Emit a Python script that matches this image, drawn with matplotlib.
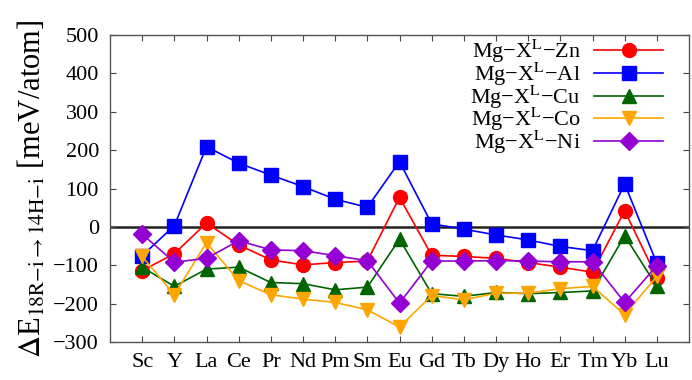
import numpy as np
import matplotlib
matplotlib.use('Agg')
import matplotlib.pyplot as plt

plt.rcParams['font.family'] = ['Liberation Serif', 'DejaVu Serif']
plt.rcParams['mathtext.fontset'] = 'stix'

# elements on the x axis
elements = ['Sc', 'Y', 'La', 'Ce', 'Pr', 'Nd', 'Pm', 'Sm', 'Eu',
            'Gd', 'Tb', 'Dy', 'Ho', 'Er', 'Tm', 'Yb', 'Lu']

# energy differences in meV/atom
zn = [-114, -70, 10, -47, -86, -99, -93, -89, 77, -74, -77, -82, -93, -105, -118, 42, -132]
al = [-75, 3, 209, 166, 135, 105, 72, 51, 170, 8, -6, -21, -34, -51, -62, 112, -95]
cu = [-105, -155, -110, -105, -145, -148, -164, -157, -32, -174, -181, -171, -174, -171, -167, -23, -155]
co = [-77, -177, -41, -140, -177, -188, -197, -216, -261, -179, -190, -173, -173, -161, -155, -229, -129]
ni = [-19, -92, -82, -36, -60, -62, -75, -88, -199, -89, -89, -88, -89, -91, -91, -197, -101]

series = [
    ('Zn', zn, 'red', 'o'),
    ('Al', al, 'blue', 's'),
    ('Cu', cu, '#006400', '^'),
    ('Co', co, 'orange', 'v'),
    ('Ni', ni, '#9400D3', 'D'),
]

fig = plt.figure(figsize=(6.92, 3.8), dpi=100)
ax = fig.add_axes([110 / 692, 38 / 380, 579 / 692, 307 / 380])

x = np.arange(len(elements))
ax.axhline(0, color='#222222', lw=1.8, zorder=1)

for name, vals, col, mk in series:
    ms = 9 if mk in ('D',) else 10
    ax.plot(x, vals, color=col, marker=mk, markersize=ms, lw=1.2,
            label='Mg−X$^{\\rm L}$−' + name, zorder=3)

ax.set_xlim(-1, 17)
ax.set_ylim(-300, 500)
ax.set_xticks(x)
ax.set_xticklabels(elements)
ax.set_yticks(np.arange(-300, 501, 100))
ax.tick_params(direction='in', length=4, top=True, right=True,
               labelsize=16, width=0.8, color='#444444', pad=8)
for sp in ax.spines.values():
    sp.set_color('#555555')
    sp.set_linewidth(1.0)

ax.set_ylabel(r'$\Delta$E$_{\rm 18R{-}i{\rightarrow}14H{-}i}$ [meV/atom]', fontsize=22,
              labelpad=4)

leg = ax.legend(loc='upper right', bbox_to_anchor=(663 / 692, 342 / 380),
                bbox_transform=fig.transFigure, frameon=False, markerfirst=False,
                fontsize=16, handlelength=3.1, handletextpad=0.6,
                labelspacing=-0.2, borderpad=0, borderaxespad=0)

plt.savefig('out.png', dpi=100)
